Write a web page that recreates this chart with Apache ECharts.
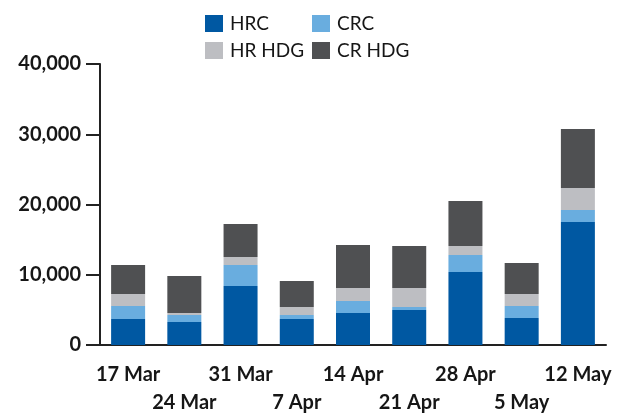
<!DOCTYPE html>
<html>
<head>
<meta charset="utf-8">
<script src="https://cdn.jsdelivr.net/npm/echarts@6/dist/echarts.min.js"></script>
<style>
	html, body { margin: 0; padding: 0; background: #fff; }
	#myChart { width: 624px; height: 419px; }
</style>
</head>
<body>
<div id="myChart"></div>
<script>
// weekly data
var category = ['17 Mar', '24 Mar', '31 Mar', '7 Apr', '14 Apr', '21 Apr', '28 Apr', '5 May', '12 May'];
var hrc   = [3700, 3270, 8400, 3700, 4560, 4980, 10390, 3840, 17510];
var crc   = [1850, 1000, 2990, 570, 1700, 430, 2420, 1710, 1710];
var hrHdg = [1700, 280, 1140, 1140, 1850, 2700, 1280, 1710, 3130];
var crHdg = [4150, 5270, 4690, 3700, 6120, 5980, 6410, 4410, 8400];

var FONT = 'Lato';
var TXT = '#161616';

var myChart = echarts.init(document.getElementById('myChart'));

function bar(name, data, color) {
	return {
		name: name,
		type: 'bar',
		stack: 'total',
		barWidth: 34,
		itemStyle: { color: color },
		data: data
	};
}

var legendBase = {
	orient: 'vertical',
	top: 9,
	itemWidth: 18,
	itemHeight: 17,
	itemGap: 8,
	icon: 'rect',
	textStyle: { fontFamily: FONT, fontSize: 19, color: TXT, padding: [0, 0, 0, 2] }
};

var option = {
	backgroundColor: '#fff',
	animation: false,
	grid: { left: 100, right: 18, top: 64, bottom: 74, containLabel: false },
	legend: [
		Object.assign({ left: 200, data: ['HRC', 'HR HDG'] }, legendBase),
		Object.assign({ left: 307, data: ['CRC', 'CR HDG'] }, legendBase)
	],
	xAxis: {
		type: 'category',
		data: category,
		axisLine: { lineStyle: { color: '#222', width: 2 } },
		axisTick: { alignWithLabel: true, length: 15, lineStyle: { color: '#222', width: 2 } },
		axisLabel: {
			interval: 0,
			margin: 16,
			fontFamily: FONT,
			fontWeight: 'bold',
			fontSize: 20,
			lineHeight: 28,
			color: TXT,
			formatter: function (v, i) { return i % 2 ? '\n' + v : v; }
		}
	},
	yAxis: {
		type: 'value',
		min: 0,
		max: 40000,
		interval: 10000,
		splitLine: { show: false },
		axisLine: { show: true, lineStyle: { color: '#222', width: 2 } },
		axisTick: { show: true, length: 14, lineStyle: { color: '#222', width: 2 } },
		axisLabel: {
			margin: 19,
			fontFamily: FONT,
			fontWeight: 'bold',
			fontSize: 20,
			color: TXT,
			formatter: function (v) { return v.toLocaleString('en-US'); }
		}
	},
	series: [
		bar('HRC', hrc, '#0058a2'),
		bar('CRC', crc, '#69addf'),
		bar('HR HDG', hrHdg, '#bdbec2'),
		bar('CR HDG', crHdg, '#4f5052')
	]
};
myChart.setOption(option);
</script>
</body>
</html>
